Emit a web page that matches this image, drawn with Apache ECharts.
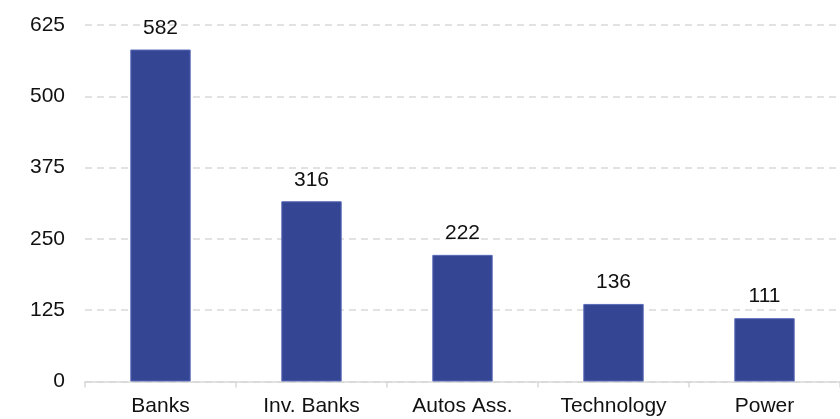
<!DOCTYPE html>
<html><head><meta charset="utf-8">
<script src="https://cdn.jsdelivr.net/npm/echarts@6/dist/echarts.min.js"></script>
<style>html,body{margin:0;padding:0;background:#fff}#c{width:840px;height:419px}</style>
</head><body><div id="c"></div>
<script>
const categories = ["Banks", "Inv. Banks", "Autos Ass.", "Technology", "Power"];
const values = [582, 316, 222, 136, 111];
const yTicks = [0, 125, 250, 375, 500, 625];

const FONT = '"Liberation Sans", Arial, sans-serif';
const chart = echarts.init(document.getElementById('c'));
chart.setOption({
  animation: false,
  grid: { left: 85, right: -5, top: 25, bottom: 37.5 },
  xAxis: {
    type: 'category', data: categories,
    axisLine: { lineStyle: { color: '#d9d9d9', width: 1.5 } },
    axisTick: { show: true, alignWithLabel: false, length: 6, lineStyle: { color: '#d9d9d9', width: 1.5 } },
    axisLabel: { color: '#111', fontSize: 21, fontFamily: FONT, margin: 14 }
  },
  yAxis: {
    type: 'value', min: yTicks[0], max: yTicks[yTicks.length - 1], interval: 125,
    axisLine: { show: false }, axisTick: { show: false },
    splitLine: { lineStyle: { color: '#d9d9d9', type: [7, 5], width: 1.5 } },
    axisLabel: { color: '#111', fontSize: 21, fontFamily: FONT, margin: 20 }
  },
  series: [{
    type: 'bar', data: values, barWidth: '40%',
    itemStyle: { color: '#334593', borderColor: '#5a6bb8', borderWidth: 1 },
    label: { show: true, position: 'top', distance: 11, color: '#111', fontSize: 21, fontFamily: FONT }
  }]
});
</script></body></html>
